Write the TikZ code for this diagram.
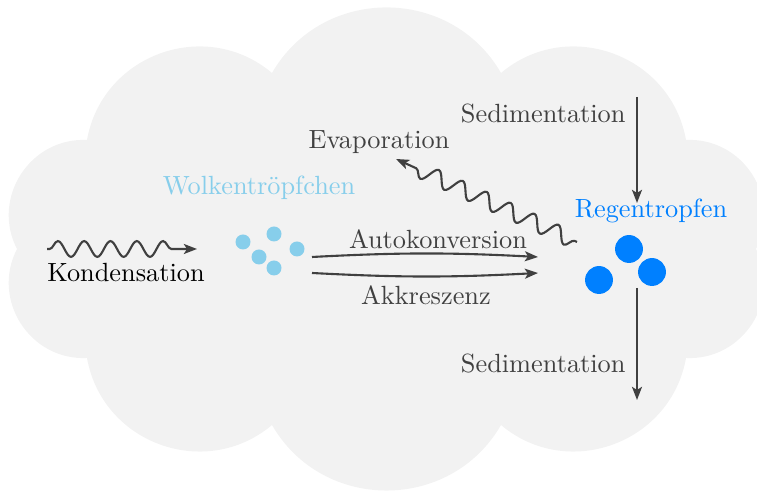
\documentclass[tikz,border=0pt]{standalone}
\usetikzlibrary{arrows.meta,decorations.pathmorphing}
\definecolor{cloudgray}{RGB}{242,242,242}
\definecolor{inkgray}{RGB}{64,64,64}
\definecolor{smalldrop}{RGB}{135,206,235}
\definecolor{raindrop}{RGB}{0,128,255}
\begin{document}
\begin{tikzpicture}[x=0.38pt,y=0.38pt,
  flow/.style={draw=inkgray, line width=0.8pt,
    -{Stealth[length=5pt,width=3.8pt,inset=1.2pt]}},
  wavy/.style={flow, decorate, decoration={snake, amplitude=3pt,
    segment length=10pt, pre length=1pt, post length=#1}},
  proc/.style={text=inkgray, inner sep=0pt},
  puff/.style={bend right=60, looseness=1.13},
  cdrop/.style={circle, fill=smalldrop, minimum size=5.7pt, inner sep=0pt},
  rdrop/.style={circle, fill=raindrop, minimum size=10.6pt, inner sep=0pt}]
\useasboundingbox (0,0) rectangle (757,492);

% cloud body: ten puffs between notch points on an ellipse
\fill[cloudgray] (756,243) to[puff] (686,352) to[puff] (501,419)
  to[puff] (272,419) to[puff] (87,352) to[puff] (17,243)
  to[puff] (87,134) to[puff] (272,67) to[puff] (501,67)
  to[puff] (686,134) to[puff] (756,243) -- cycle;

% cloud droplets
\node[text=smalldrop, inner sep=0pt] (wlabel) at (259,304) {Wolkentr\"opfchen};
\node[cdrop] (w1) at (243,250) {};
\node[cdrop] (w2) at (274,258) {};
\node[cdrop] (w3) at (297,243) {};
\node[cdrop] (w4) at (259,235) {};
\node[cdrop] (w5) at (274,224) {};

% rain drops
\node[text=raindrop, inner sep=0pt] (rlabel) at (651,281) {Regentropfen};
\node[rdrop] (r1) at (629,243) {};
\node[rdrop] (r2) at (652,220) {};
\node[rdrop] (r3) at (599,212) {};

% condensation
\node[inner sep=0pt] (kond) at (126,219) {Kondensation};
\coordinate (kondA) at (47,243);
\coordinate (kondB) at (197,243);
\draw[wavy=5pt] (kondA) -- (kondB);

% autoconversion and accretion
\coordinate (autoA) at (312,235);
\coordinate (autoB) at (538,235);
\coordinate (akkA) at (312,219);
\coordinate (akkB) at (538,219);
\draw[flow] (autoA) to[bend left=3] (autoB);
\draw[flow] (akkA) to[bend right=3] (akkB);
\node[proc] (auto) at (438,253) {Autokonversion};
\node[proc] (akk) at (426,197) {Akkreszenz};

% evaporation
\node[proc] (evap) at (379,350) {Evaporation};
\coordinate (evapA) at (577,250);
\coordinate (evapB) at (396,333);
\draw[wavy=4pt] (evapA) -- (evapB);

% sedimentation in and out
\node[proc, anchor=east] (sedin) at (626,378) {Sedimentation};
\node[proc, anchor=east] (sedout) at (626,128) {Sedimentation};
\coordinate (sinA) at (637,395);
\coordinate (sinB) at (637,289);
\coordinate (soutA) at (637,204);
\coordinate (soutB) at (637,92);
\draw[flow] (sinA) -- (sinB);
\draw[flow] (soutA) -- (soutB);
\end{tikzpicture}
\end{document}
